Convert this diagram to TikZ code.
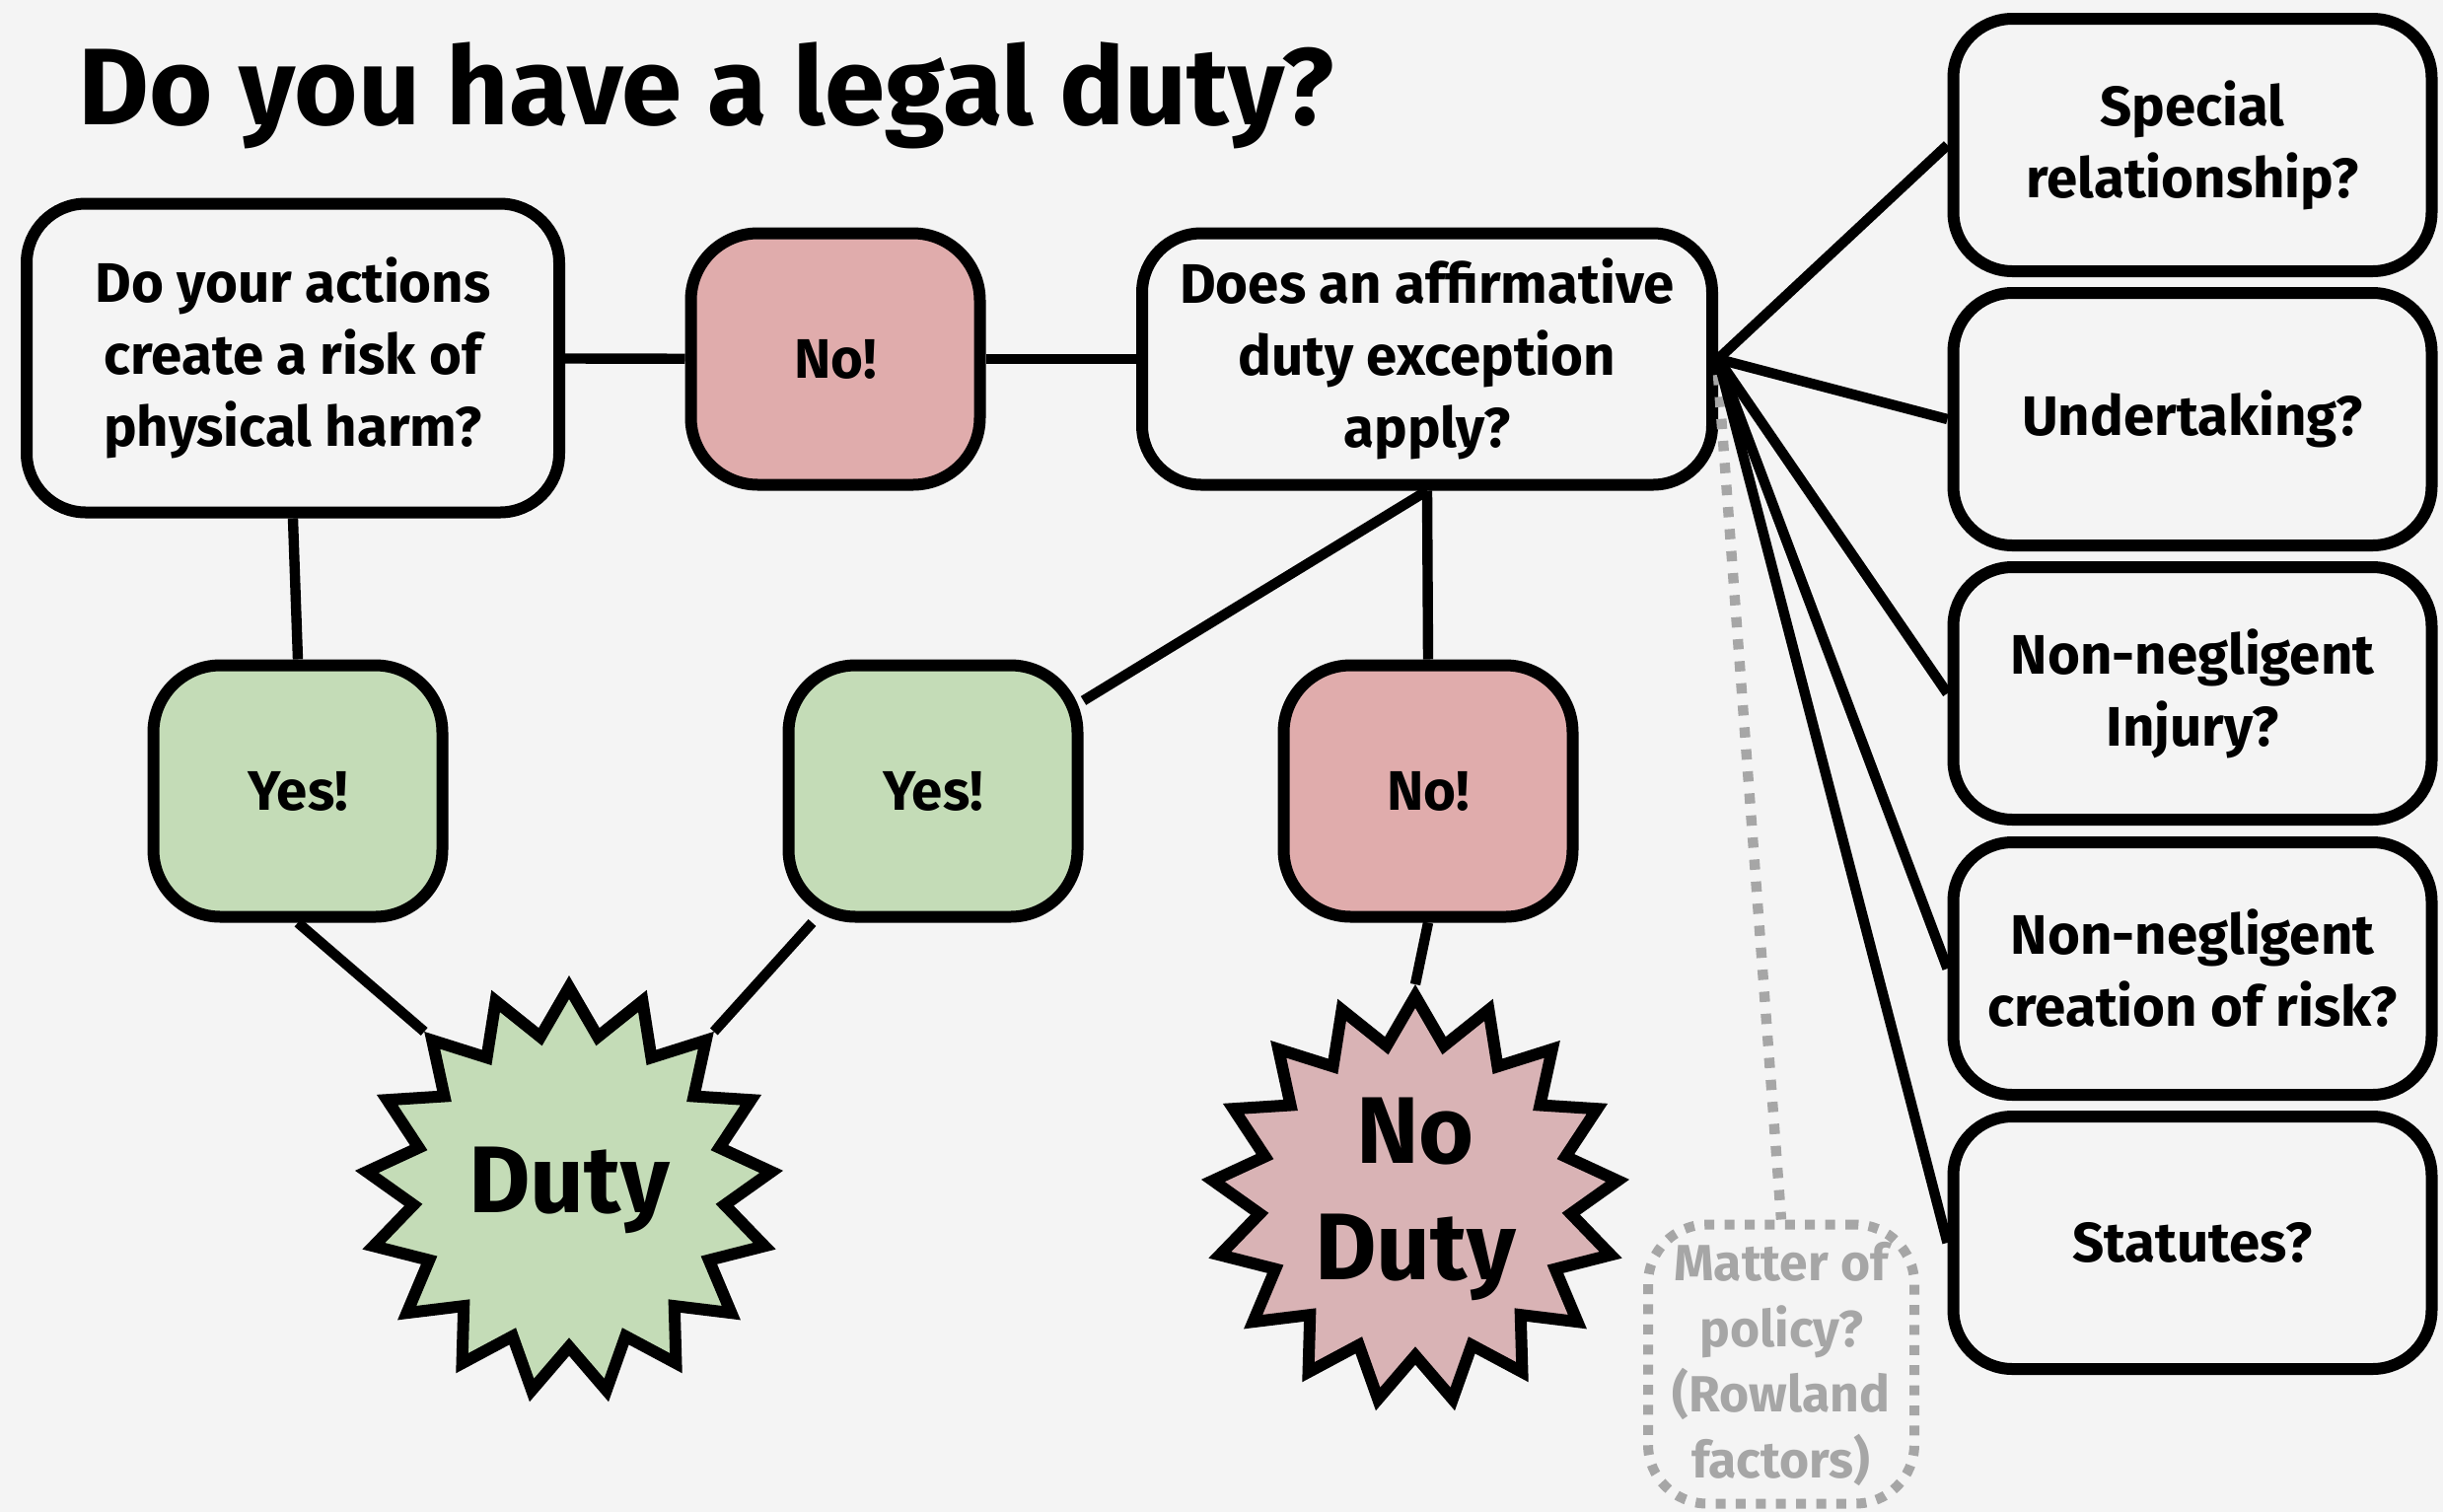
\documentclass[tikz,border=0pt]{standalone}
\usepackage{fontspec}
\setmainfont{Fira Sans}
\usetikzlibrary{shapes.geometric}

\definecolor{bgcol}{HTML}{F4F4F4}
\definecolor{yescol}{HTML}{C4DCB7}
\definecolor{nocol}{HTML}{E0ACAC}
\definecolor{nodutycol}{HTML}{D9B3B5}
\definecolor{policycol}{HTML}{A6A6A6}

\tikzset{
  qbox/.style={draw, line width=3pt, rounded corners=15pt, fill=bgcol, align=center,
    inner sep=0pt, font=\fontsize{14.1}{18.25}\selectfont\bfseries},
  optbox/.style={qbox, minimum width=121.25pt, minimum height=64pt},
  ansbox/.style={qbox, rounded corners=17pt, minimum width=73.25pt, minimum height=63.75pt},
  yesbox/.style={ansbox, fill=yescol},
  nobox/.style={ansbox, fill=nocol},
  burst/.style={draw, star, star points=17, star point ratio=1.3, line width=3pt,
    minimum size=103pt, inner sep=0pt, align=center, font=\fontsize{24}{29.6}\selectfont\bfseries},
  policybox/.style={draw=policycol, text=policycol, line width=2.5pt, dash pattern=on 2.5pt off 2.6pt,
    rounded corners=15pt, minimum width=67.5pt, minimum height=70.75pt, align=center,
    inner sep=0pt, font=\fontsize{12.9}{16.6}\selectfont\bfseries},
  link/.style={line width=2.6pt},
  policylink/.style={draw=policycol, line width=2.6pt, dash pattern=on 2.6pt off 3pt}
}

\begin{document}
\begin{tikzpicture}[x=0.25pt,y=-0.25pt]
\fill[bgcol] (0,0) rectangle (2477,1533);
\useasboundingbox (0,0) rectangle (2477,1533);

\node[anchor=base west, inner sep=0pt, font=\fontsize{27.6}{32}\selectfont\bfseries] (title) at (79,126) {Do you have a legal duty?};

% questions
\node[qbox, minimum width=135pt, minimum height=78.25pt] (risk) at (297,363) {Do your actions\\create a risk of\\physical harm?};
\node[nobox] (no1) at (847,364) {No!};
\node[qbox, minimum width=144.5pt, minimum height=63.75pt] (except) at (1447,364) {Does an affirmative\\duty exception\\apply?};

% answers
\node[yesbox] (yes1) at (302,802) {Yes!};
\node[yesbox] (yes2) at (946,802) {Yes!};
\node[nobox] (no2) at (1448,802) {No!};

% outcomes
\node[burst, fill=yescol] (duty) at (577,1207) {Duty};
\node[burst, fill=nodutycol] (noduty) at (1435,1216) {No\\Duty};

% exceptions
\node[optbox] (special) at (2223,147) {Special\\relationship?};
\node[optbox] (undertake) at (2223,425) {Undertaking?};
\node[optbox] (injury) at (2223,703) {Non-negligent\\Injury?};
\node[optbox] (creation) at (2223,982) {Non-negligent\\creation of risk?};
\node[optbox] (statute) at (2223,1260) {Statutes?};

\node[policybox] (policy) at (1806,1383) {Matter of\\policy?\\(Rowland\\factors)};

\draw[policylink] ([yshift=-4pt]except.east) -- (policy.north);

\draw[link] (risk) -- (no1);
\draw[link] (no1) -- (except);
\draw[link] (risk.south) -- (yes1.north);
\draw[link] (yes1.south) -- (duty.outer point 3);
\draw[link] (yes2.south west) ++(30,0) -- (duty.outer point 16);
\draw[link] (except.south) -- (yes2.31);
\draw[link] (except.south) -- (no2.north);
\draw[link] (no2.south) -- (noduty.outer point 1);
\draw[link] (except.east) -- (special.west);
\draw[link] (except.east) -- (undertake.west);
\draw[link] (except.east) -- (injury.west);
\draw[link] (except.east) -- (creation.west);
\draw[link] (except.east) -- (statute.west);
\end{tikzpicture}
\end{document}
